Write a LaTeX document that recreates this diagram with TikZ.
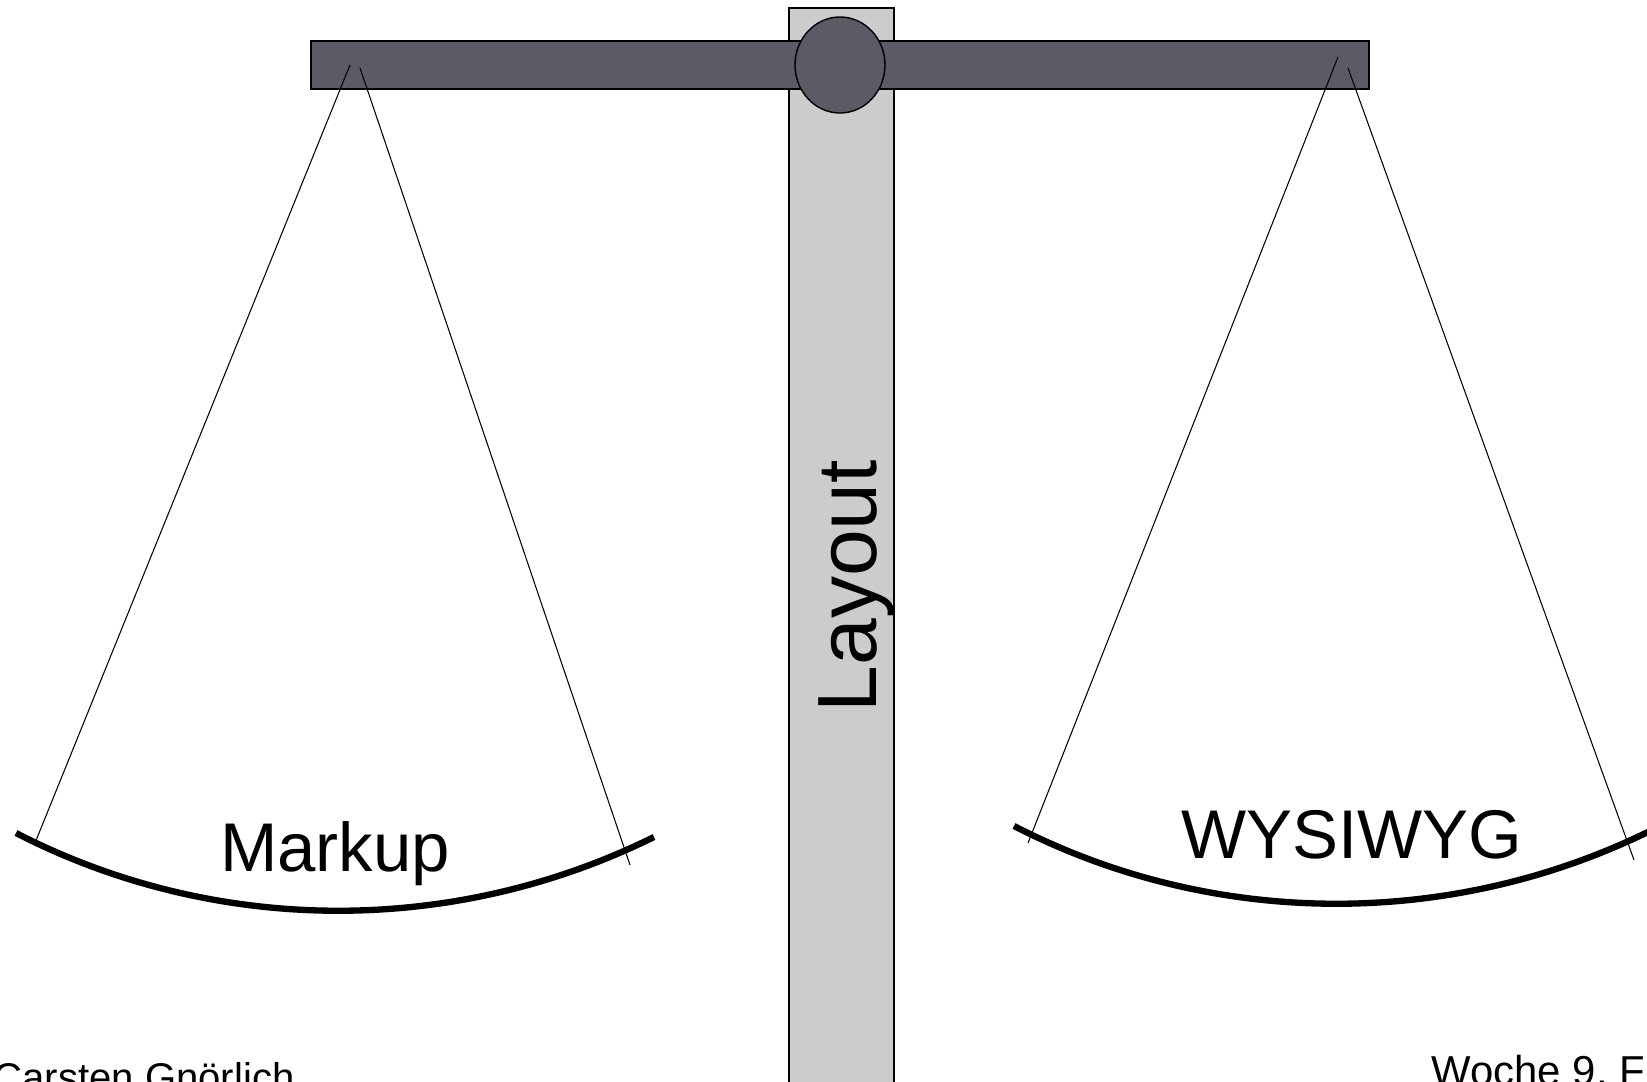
\documentclass[tikz,border=0pt]{standalone}
\usepackage{fontspec}
\setmainfont{Liberation Sans}
\definecolor{beamgray}{RGB}{91,91,101}
\definecolor{polegray}{RGB}{204,204,204}
\tikzset{
  part/.style={draw=black, line width=0.4pt},
  rope/.style={draw=black, line width=0.3pt},
  pan/.style={draw=black, line width=1.8pt},
  label/.style={inner sep=0pt, font=\fontsize{19.6pt}{22pt}\selectfont},
  footer/.style={inner sep=0pt, font=\fontsize{11.4pt}{13pt}\selectfont}
}
\begin{document}
\begin{tikzpicture}[x=0.01cm, y=-0.01cm]
\useasboundingbox (0,0) rectangle (1647,1082);
\clip (0,0) rectangle (1647,1082);
% pole
\path[part, fill=polegray] (789,8) rectangle (894,1100);
% beam
\path[part, fill=beamgray] (311,41) rectangle (1369,89);
% pivot
\path[part, fill=beamgray] (840,65) ellipse [x radius=45, y radius=48];
% named points
\coordinate (L1) at (350,65);
\coordinate (L2) at (360,68);
\coordinate (La) at (35,843);
\coordinate (Lb) at (630,865);
\coordinate (R1) at (1338,57);
\coordinate (R2) at (1348,68);
\coordinate (Ra) at (1028,843);
\coordinate (Rb) at (1634,860);
% ropes
\draw[rope] (L1) -- (La);
\draw[rope] (L2) -- (Lb);
\draw[rope] (R1) -- (Ra);
\draw[rope] (R2) -- (Rb);
% pans
\draw[pan] (16,833) .. controls (216,936) and (454,936) .. (654,837);
\draw[pan] (1014,826) .. controls (1214,929) and (1452,929) .. (1652,830);
% labels
\node[label, anchor=base] (markup) at (335,872) {Markup};
\node[label, anchor=base] (wysiwyg) at (1352,859) {WYSIWYG};
\node[inner sep=0pt, font=\fontsize{23.9pt}{26pt}\selectfont, rotate=90, anchor=base west] (layout) at (876,713) {Layout};
\node[footer, anchor=base west] (author) at (-7,1091) {Carsten Gnörlich};
\node[inner sep=0pt, font=\fontsize{11.9pt}{13pt}\selectfont, anchor=base west] (week) at (1431,1086) {Woche 9, F};
\end{tikzpicture}
\end{document}
